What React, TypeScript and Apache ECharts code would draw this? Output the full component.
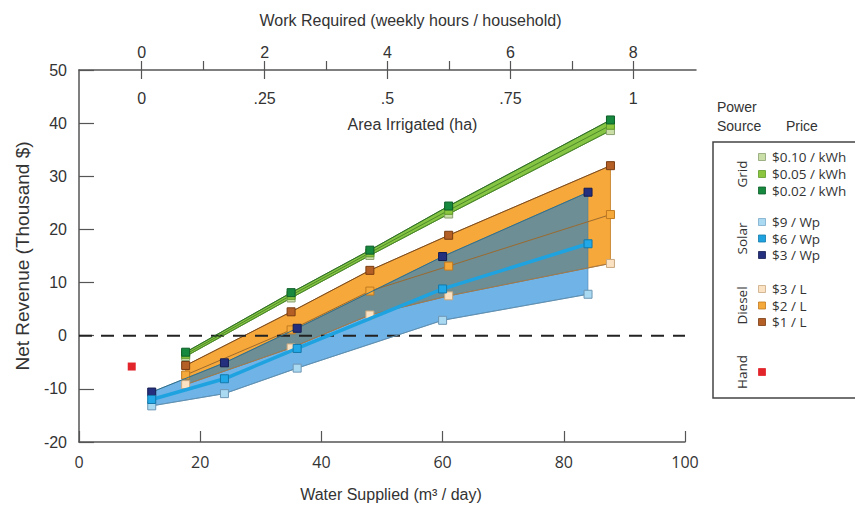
import React, { useEffect, useRef } from "react";
import * as echarts from "echarts";

// Water supplied (m3/day) positions
const waterGD = [17.6, 35, 48, 61, 87.7]; // grid & diesel
const waterSolar = [12, 24, 36, 60, 84];

// Net revenue (thousand $)
const grid010 = [-3.9, 7.1, 15.1, 22.9, 38.6];
const grid005 = [-3.5, 7.6, 15.6, 23.6, 39.6];
const grid002 = [-3.1, 8.1, 16.1, 24.4, 40.6];

const diesel3 = [-9.2, -2.3, 3.9, 7.5, 13.6];
const diesel2 = [-7.4, 1.1, 8.4, 13.1, 22.8];
const diesel1 = [-5.6, 4.5, 12.3, 18.9, 32.0];

const solar9 = [-13.2, -10.9, -6.1, 2.9, 7.8];
const solar6 = [-12.0, -8.1, -2.4, 8.8, 17.3];
const solar3 = [-10.6, -5.1, 1.4, 14.9, 27.0];

const hand = [8.7, -5.8];

const areaTicks = [0, 0.25, 0.5, 0.75, 1];

const legendRows = [
  { label: "$0.10 / kWh", color: "#cadfa8", border: "#8aa070", y: 157 },
  { label: "$0.05 / kWh", color: "#8cc63f", border: "#5f9a2a", y: 174 },
  { label: "$0.02 / kWh", color: "#16893f", border: "#0d5e28", y: 190.5 },
  { label: "$9 / Wp", color: "#aad9f2", border: "#7aaac8", y: 222 },
  { label: "$6 / Wp", color: "#1ea3e0", border: "#1479aa", y: 238.5 },
  { label: "$3 / Wp", color: "#24307e", border: "#141c50", y: 255 },
  { label: "$3 / L", color: "#fbe2c2", border: "#c9a880", y: 289 },
  { label: "$2 / L", color: "#f6a93b", border: "#c07a20", y: 305.5 },
  { label: "$1 / L", color: "#b35f25", border: "#7a3c12", y: 322 },
  { label: "", color: "#e2252b", border: "#e2252b", y: 372 },
];
const legendGroups = [
  { label: "Grid", y: 174 },
  { label: "Solar", y: 238.5 },
  { label: "Diesel", y: 305.5 },
  { label: "Hand", y: 372 },
];

const pairs = (xs: number[], ys: number[]) => xs.map((x, i) => [x, ys[i]]);

function band(name: string, xs: number[], low: number[], high: number[], fill: string, opacity: number, stroke: string) {
  return {
    name: name + " band",
    type: "custom",
    data: [[xs[0], low[0]]],
    encode: { x: 0, y: 1 },
    silent: true,
    z: 1,
    renderItem: (params: any, api: any) => {
      const top = xs.map((x, i) => api.coord([x, high[i]]));
      const bottom = xs.map((x, i) => api.coord([x, low[i]])).reverse();
      return {
        type: "polygon",
        shape: { points: [...top, ...bottom] },
        style: { fill, opacity, stroke, lineWidth: 0.8 },
      };
    },
  };
}

function priceLine(name: string, xs: number[], ys: number[], line: string, width: number, fill: string, border: string, z = 3) {
  return {
    name,
    type: "line",
    data: pairs(xs, ys),
    symbol: "rect",
    symbolSize: 8,
    lineStyle: { color: line, width },
    itemStyle: { color: fill, borderColor: border, borderWidth: 1, opacity: 1 },
    z,
  };
}

export default function App() {
  const ref = useRef<HTMLDivElement>(null);
  useEffect(() => {
    if (!ref.current) return;
    const chart = echarts.init(ref.current, null, { renderer: "svg" });
    const axisColor = "#555";
    const txt = "#333";
    const graphics: any[] = [
      { type: "text", left: 717, top: 100, style: { text: "Power", fontSize: 14, fill: txt, fontFamily: "Liberation Sans" } },
      { type: "text", left: 717, top: 119, style: { text: "Source", fontSize: 14, fill: txt, fontFamily: "Liberation Sans" } },
      { type: "text", left: 786, top: 119, style: { text: "Price", fontSize: 14, fill: txt, fontFamily: "Liberation Sans" } },
      {
        type: "rect",
        shape: { x: 713, y: 142, width: 200, height: 256 },
        style: { fill: "none", stroke: "#444", lineWidth: 1.5 },
      },
    ];
    legendRows.forEach((r) => {
      graphics.push({
        type: "rect",
        shape: { x: 758.5, y: r.y - 3.5, width: 7, height: 7 },
        style: { fill: r.color, stroke: r.border, lineWidth: 0.8 },
      });
      if (r.label)
        graphics.push({
          type: "text",
          x: 772,
          y: r.y,
          style: { text: r.label, fontSize: 13.5, fill: txt, fontFamily: "Open Sans", verticalAlign: "middle", align: "left" },
        });
    });
    legendGroups.forEach((g) => {
      graphics.push({
        type: "text",
        x: 741.5,
        y: g.y,
        rotation: Math.PI / 2,
        style: { text: g.label, fontSize: 13.5, fill: txt, fontFamily: "Open Sans", verticalAlign: "middle", align: "center" },
      });
    });

    const option: any = {
      animation: false,
      textStyle: { fontFamily: "Liberation Sans, Arial, sans-serif" },
      grid: [
        { left: 79, top: 70, width: 606, height: 372 },
        { left: 141.7, top: 70, width: 491.6, height: 372 },
        { left: 79, top: 0, width: 617, height: 70 },
      ],
      xAxis: [
        {
          gridIndex: 0,
          type: "value",
          position: "bottom",
          min: 0,
          max: 100,
          interval: 20,
          axisLine: { onZero: false, lineStyle: { color: axisColor, width: 1.5 } },
          axisTick: { inside: true, length: 11, lineStyle: { color: axisColor, width: 1.2 } },
          axisLabel: { fontSize: 16, color: txt, margin: 12, fontFamily: "Open Sans" },
          splitLine: { show: false },
          name: "Water Supplied (m³ / day)",
          nameLocation: "middle",
          nameGap: 44,
          nameTextStyle: { fontSize: 16, color: txt, padding: [0, 0, 0, 18] },
        },
        {
          gridIndex: 1,
          type: "value",
          position: "top",
          min: 0,
          max: 8,
          interval: 1,
          axisLine: { show: false, onZero: false },
          axisTick: { show: true, inside: false, length: 9, lineStyle: { color: axisColor, width: 1.2 } },
          axisLabel: {
            fontSize: 16,
            color: txt,
            margin: 10,
            formatter: (v: number) => (v % 2 === 0 ? String(v) : ""),
          },
          splitLine: { show: false },
          name: "Work Required (weekly hours / household)",
          nameLocation: "middle",
          nameGap: 42,
          nameTextStyle: { fontSize: 16, color: txt, padding: [0, 0, 0, 46] },
        },
        {
          gridIndex: 2,
          type: "value",
          position: "bottom",
          min: -0.1275,
          max: 1.1275,
          axisLine: { show: true, onZero: false, lineStyle: { color: axisColor, width: 1.5 } },
          axisTick: { show: true, inside: false, length: 9, customValues: areaTicks, lineStyle: { color: axisColor, width: 1.2 } },
          axisLabel: {
            fontSize: 16,
            color: txt,
            margin: 20,
            customValues: areaTicks,
            formatter: (v: number) => (v === 0 ? "0" : v === 1 ? "1" : String(v).replace(/^0/, "")),
          },
          splitLine: { show: false },
          name: "Area Irrigated (ha)",
          nameLocation: "middle",
          nameGap: 46,
          nameTextStyle: { fontSize: 16, color: txt, padding: [0, 0, 0, 50] },
        },
      ],
      yAxis: [
        {
          gridIndex: 0,
          type: "value",
          min: -20,
          max: 50,
          interval: 10,
          axisLine: { show: true, onZero: false, lineStyle: { color: axisColor, width: 1.5 } },
          axisTick: { show: true, inside: true, length: 15, lineStyle: { color: axisColor, width: 1.2 } },
          axisLabel: { fontSize: 16, color: txt, margin: 12 },
          splitLine: { show: false },
          name: "Net Revenue (Thousand $)",
          nameLocation: "middle",
          nameGap: 47,
          nameTextStyle: { fontSize: 19, color: txt },
        },
        { gridIndex: 1, type: "value", show: false, min: 0, max: 1 },
        { gridIndex: 2, type: "value", show: false, min: 0, max: 1 },
      ],
      series: [
        band("diesel", waterGD, diesel3, diesel1, "#f7a83a", 1, "#c07a20"),
        priceLine("Diesel $3 / L", waterGD, diesel3, "#a87a48", 1, "#fbe2c2", "#c9a880", 2),
        priceLine("Diesel $2 / L", waterGD, diesel2, "#9a6a30", 1, "#f6a93b", "#c07a20", 2),
        priceLine("Diesel $1 / L", waterGD, diesel1, "#7a4a20", 1, "#b35f25", "#7a3c12", 2),
        band("solar", waterSolar, solar9, solar3, "rgb(8,124,214)", 0.58, "#3f78a0"),
        {
          name: "zero",
          type: "line",
          data: [
            [0, 0],
            [100, 0],
          ],
          symbol: "none",
          lineStyle: { color: "#222", width: 2, type: [13, 9] },
          z: 2,
          silent: true,
        },
        priceLine("Solar $9 / Wp", waterSolar, solar9, "#5f8fb0", 1, "#aad9f2", "#6e97b4"),
        priceLine("Solar $3 / Wp", waterSolar, solar3, "#2f6f8c", 1, "#24307e", "#141c50"),
        priceLine("Solar $6 / Wp", waterSolar, solar6, "#1ea3e0", 3.5, "#22a8e6", "#1479aa"),
        band("grid", waterGD, grid010, grid002, "#86c443", 1, "#3f7f25"),
        priceLine("Grid $0.10 / kWh", waterGD, grid010, "#4d8a2a", 1, "#cadfa8", "#8aa070"),
        priceLine("Grid $0.05 / kWh", waterGD, grid005, "#4d8a2a", 1, "#8cc63f", "#5f9a2a"),
        priceLine("Grid $0.02 / kWh", waterGD, grid002, "#2e6e28", 1, "#16893f", "#0d5e28"),
        {
          name: "Hand",
          type: "scatter",
          data: [hand],
          symbol: "rect",
          symbolSize: 8,
          itemStyle: { color: "#e2252b", opacity: 1 },
          z: 3,
        },
      ],
      graphic: graphics,
    };
    chart.setOption(option);
    return () => chart.dispose();
  }, []);
  return (
    <div
      ref={ref}
      style={{ position: "fixed", left: 0, top: 0, width: 855, height: 508, background: "#fff" }}
    />
  );
}
